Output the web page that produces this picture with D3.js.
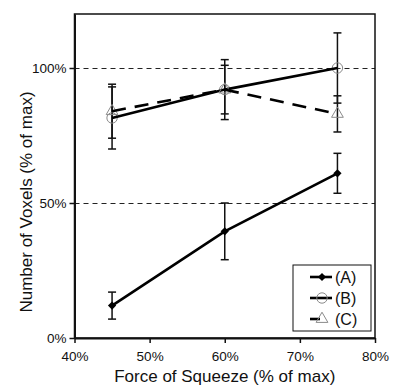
<!DOCTYPE html>
<html>
<head>
<meta charset="utf-8">
<script src="https://cdn.jsdelivr.net/npm/d3@7"></script>
<style>
  body { margin: 0; background: #fff; }
  svg { display: block; font-family: "Liberation Sans", Arial, sans-serif; }
</style>
</head>
<body>
<div id="chart"></div>
<script>
// Force of squeeze (% of max) and voxel counts (% of max) per condition
const forces = [45, 60, 75];
const seriesA = [12, 39.5, 61];
const errA = [5, 10.5, 7.4];
const seriesB = [81.5, 92, 100];
const errB = [11.5, 11.1, 13];
const seriesC = [84, 92, 83];
const errC = [10, 9, 6.7];
const xTicks = [40, 50, 60, 70, 80];
const yTicks = [0, 50, 100];
const gridLines = [50, 100];

const series = [
  { name: "(A)", values: seriesA, errs: errA, marker: "diamond", dash: null },
  { name: "(B)", values: seriesB, errs: errB, marker: "circle", dash: null },
  { name: "(C)", values: seriesC, errs: errC, marker: "triangle", dash: "14,9" },
];

const w = 399, h = 385;
const margin = { top: 14, right: 24, bottom: 47, left: 74.5 };

const svg = d3.select("#chart").append("svg")
  .attr("width", w)
  .attr("height", h);

const x = d3.scaleLinear()
  .domain([40, 80])
  .range([margin.left, w - margin.right]);
const y = d3.scaleLinear()
  .domain([0, 120])
  .range([h - margin.bottom, margin.top]);

// dashed reference lines
svg.append("g")
  .selectAll("line")
  .data(gridLines)
  .join("line")
  .attr("x1", x(40)).attr("x2", x(80))
  .attr("y1", (d) => Math.round(y(d)) + 0.5).attr("y2", (d) => Math.round(y(d)) + 0.5)
  .attr("stroke", "#222")
  .attr("stroke-width", 1)
  .attr("stroke-dasharray", "5,4");

// plot frame
svg.append("rect")
  .attr("x", x(40)).attr("y", y(120))
  .attr("width", x(80) - x(40))
  .attr("height", y(0) - y(120))
  .attr("fill", "none")
  .attr("stroke", "#111")
  .attr("stroke-width", 1.5);

const xAxis = svg.append("g")
  .attr("transform", `translate(0,${y(0)})`)
  .call(d3.axisBottom(x).tickValues(xTicks).tickFormat((d) => d + "%").tickSize(5).tickPadding(8).tickSizeOuter(0));
const yAxis = svg.append("g")
  .attr("transform", `translate(${x(40)},0)`)
  .call(d3.axisLeft(y).tickValues(yTicks).tickFormat((d) => d + "%").tickSize(5).tickPadding(3).tickSizeOuter(0));

for (const ax of [xAxis, yAxis]) {
  ax.select(".domain").attr("stroke", "#111").attr("stroke-width", 2);
  ax.selectAll(".tick line").attr("stroke", "#111").attr("stroke-width", 1.5);
  ax.selectAll(".tick text")
    .style("font-size", "13.5px")
    .style("font-family", "'Liberation Sans', Arial, sans-serif")
    .attr("fill", "#111");
}

// axis titles
svg.append("text")
  .attr("x", (x(40) + x(80)) / 2)
  .attr("y", 382)
  .attr("text-anchor", "middle")
  .style("font-size", "17px")
  .attr("fill", "#111")
  .text("Force of Squeeze (% of max)");
svg.append("text")
  .attr("transform", "rotate(-90)")
  .attr("x", -202)
  .attr("y", 32)
  .attr("text-anchor", "middle")
  .style("font-size", "17px")
  .attr("fill", "#111")
  .text("Number of Voxels (% of max)");

// error bars
const capW = 4;
for (const s of series) {
  const g = svg.append("g");
  forces.forEach((f, i) => {
    const cx = x(f);
    const lo = y(s.values[i] - s.errs[i]);
    const hi = y(s.values[i] + s.errs[i]);
    g.append("line").attr("x1", cx).attr("x2", cx).attr("y1", lo).attr("y2", hi)
      .attr("stroke", "#111").attr("stroke-width", 1.5);
    for (const yy of [lo, hi]) {
      g.append("line").attr("x1", cx - capW).attr("x2", cx + capW).attr("y1", yy).attr("y2", yy)
        .attr("stroke", "#111").attr("stroke-width", 1.5);
    }
  });
}

function drawMarker(g, m, cx, cy) {
  if (m === "diamond") {
    g.append("path")
      .attr("d", d3.symbol(d3.symbolSquare, 34)())
      .attr("transform", `translate(${cx},${cy}) rotate(45)`)
      .attr("fill", "#000");
    return;
  }
  g.append("path")
    .attr("d", d3.symbol(m === "circle" ? d3.symbolCircle : d3.symbolTriangle, m === "circle" ? 85 : 60)())
    .attr("transform", `translate(${cx},${cy})`)
    .attr("fill", "none")
    .attr("stroke", "#8a8a8a")
    .attr("stroke-width", 1);
}

const line = d3.line().x((d) => x(d[0])).y((d) => y(d[1]));

for (const s of series) {
  const pts = forces.map((f, i) => [f, s.values[i]]);
  const g = svg.append("g");
  pts.forEach((p) => drawMarker(g, s.marker, x(p[0]), y(p[1])));
  g.append("path")
    .datum(pts)
    .attr("d", line)
    .attr("fill", "none")
    .attr("stroke", "#000")
    .attr("stroke-width", 2.6)
    .attr("stroke-dasharray", s.dash);
}

// legend
const lg = svg.append("g").attr("transform", "translate(293,265)");
lg.append("rect")
  .attr("width", 78).attr("height", 66)
  .attr("fill", "#fff")
  .attr("stroke", "#111")
  .attr("stroke-width", 1);
series.forEach((s, i) => {
  const cy = 12 + i * 21;
  lg.append("line")
    .attr("x1", 17).attr("x2", s.dash ? 27 : 39)
    .attr("y1", cy).attr("y2", cy)
    .attr("stroke", "#000").attr("stroke-width", 2.6);
  drawMarker(lg, s.marker, 29, cy);
  lg.append("text")
    .attr("x", 42).attr("y", cy + 6)
    .style("font-size", "16px")
    .attr("fill", "#111")
    .text(s.name);
});
</script>
</body>
</html>
